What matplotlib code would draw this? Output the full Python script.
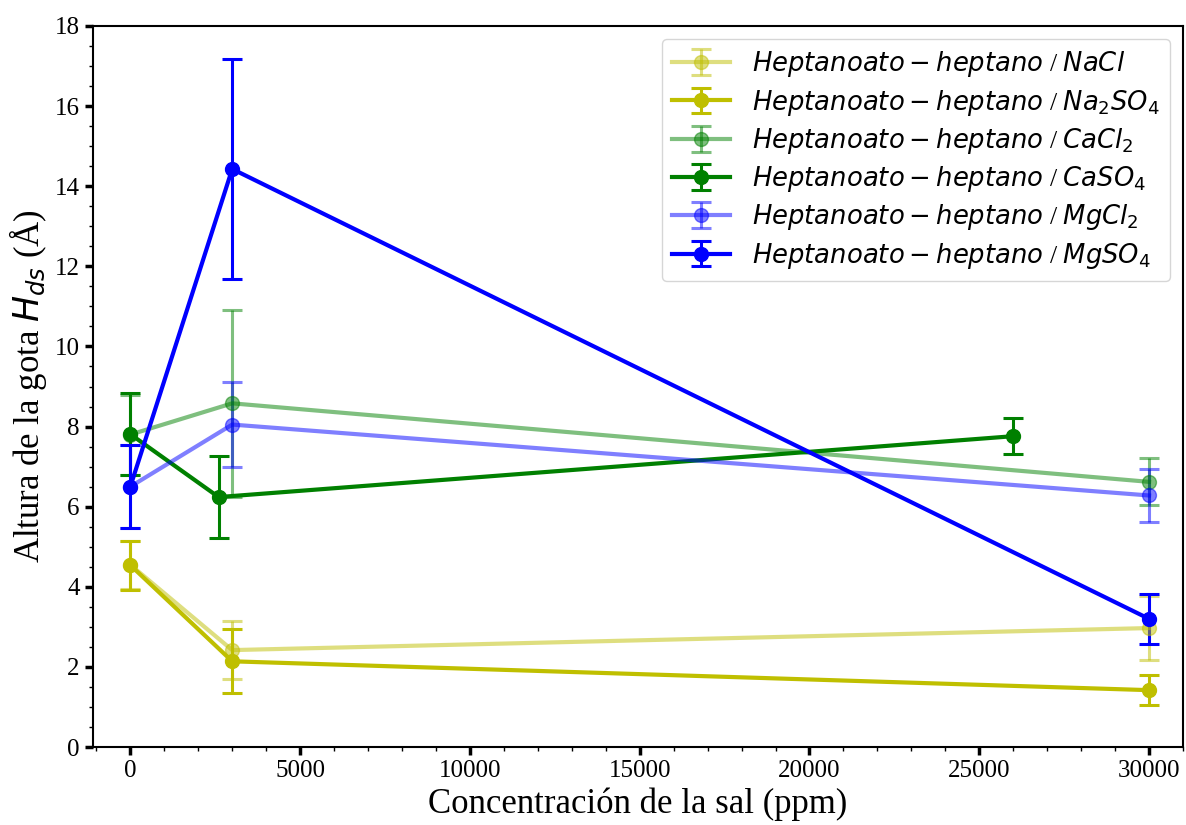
import matplotlib
matplotlib.use("Agg")
import matplotlib.pyplot as plt
from matplotlib.ticker import MultipleLocator

plt.rcParams['font.family'] = ['Liberation Serif', 'DejaVu Sans']
plt.rcParams['mathtext.fontset'] = 'dejavusans'

# Data
x_nacl = [0, 3000, 30000]
y_nacl = [4.55, 2.42, 2.97]
e_nacl = [0.6, 0.72, 0.8]

x_na2so4 = [0, 3000, 30000]
y_na2so4 = [4.54, 2.14, 1.42]
e_na2so4 = [0.61, 0.8, 0.38]

x_cacl2 = [0, 3000, 30000]
y_cacl2 = [7.8, 8.58, 6.62]
e_cacl2 = [1.0, 2.33, 0.59]

x_caso4 = [0, 2600, 26000]
y_caso4 = [7.81, 6.24, 7.76]
e_caso4 = [1.02, 1.02, 0.45]

x_mgcl2 = [0, 3000, 30000]
y_mgcl2 = [6.5, 8.05, 6.28]
e_mgcl2 = [1.03, 1.06, 0.66]

x_mgso4 = [0, 3000, 30000]
y_mgso4 = [6.5, 14.43, 3.2]
e_mgso4 = [1.03, 2.75, 0.63]

labels = [r'$Heptanoato-heptano$ / $NaCl$',
          r'$Heptanoato-heptano$ / $Na_2SO_4$',
          r'$Heptanoato-heptano$ / $CaCl_2$',
          r'$Heptanoato-heptano$ / $CaSO_4$',
          r'$Heptanoato-heptano$ / $MgCl_2$',
          r'$Heptanoato-heptano$ / $MgSO_4$']

series = [
    (x_nacl, y_nacl, e_nacl, 'y', 0.5),
    (x_na2so4, y_na2so4, e_na2so4, 'y', 1.0),
    (x_cacl2, y_cacl2, e_cacl2, 'g', 0.5),
    (x_caso4, y_caso4, e_caso4, 'g', 1.0),
    (x_mgcl2, y_mgcl2, e_mgcl2, 'b', 0.5),
    (x_mgso4, y_mgso4, e_mgso4, 'b', 1.0),
]

fig = plt.figure(figsize=(11.86, 8.25), dpi=100)
ax = fig.add_axes([0.0784, 0.0945, 0.9191, 0.874])

for (x, y, e, c, a), lab in zip(series, labels):
    ax.errorbar(x, y, yerr=e, color=c, alpha=a, marker='o', markersize=10,
                linewidth=3, elinewidth=2.2, capsize=7, capthick=2.2, label=lab)

ax.set_xlim(-1100, 31000)
ax.set_ylim(0, 18)
ax.xaxis.set_major_locator(MultipleLocator(5000))
ax.xaxis.set_minor_locator(MultipleLocator(1000))
ax.yaxis.set_major_locator(MultipleLocator(2))
ax.yaxis.set_minor_locator(MultipleLocator(0.5))
ax.tick_params(which='major', length=6, width=2.5, labelsize=18)
ax.tick_params(which='minor', length=3, width=1)
for s in ax.spines.values():
    s.set_linewidth(1.5)

ax.set_xlabel('Concentración de la sal (ppm)', fontsize=25)
ax.set_ylabel(r'Altura de la gota $H_{ds}$ (Å)', fontsize=25)

ax.legend(loc='upper right', fontsize=18.6, handlelength=2.25,
          handletextpad=0.85, labelspacing=0.32)

fig.savefig('out.png', dpi=100)
